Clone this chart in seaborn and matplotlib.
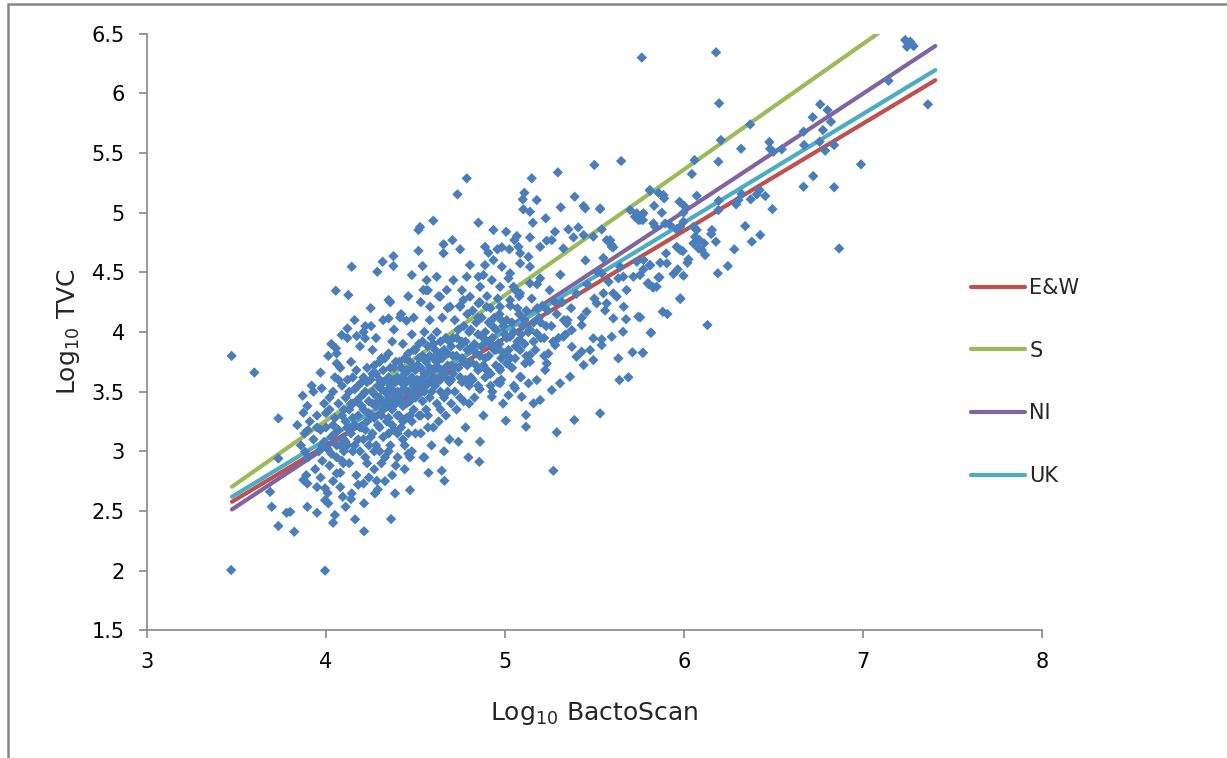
import pandas as pd
import matplotlib
matplotlib.use('Agg')
import matplotlib.pyplot as plt
from matplotlib.patches import Rectangle
import seaborn as sns

# Regression lines (start / end of each fitted line)
regions = ['E&W', 'S', 'NI', 'UK']
line_x = [3.475, 7.405]
line_y = {
    'E&W': [2.577, 6.11],
    'S': [2.703, 6.84],
    'NI': [2.513, 6.397],
    'UK': [2.619, 6.195],
}
line_colors = {'E&W': '#C0504D', 'S': '#9BBB59', 'NI': '#8064A2', 'UK': '#4BACC6'}

# Scatter points (log10 BactoScan, log10 TVC)
points = [
    # outliers, low end
    (3.473, 3.80), (3.60, 3.66), (3.47, 2.005), (3.995, 2.0), (3.734, 3.276),
    (3.688, 2.66), (3.697, 2.535), (3.734, 2.374), (3.823, 2.326), (3.78, 2.485),
    (3.80, 2.493), (3.896, 2.535), (3.95, 2.485), (3.734, 2.94), (3.84, 3.22),
    (3.87, 3.466), (3.896, 3.38), (3.874, 3.323), (3.97, 3.66), (3.976, 3.528),
    (4.013, 3.80), (4.055, 4.346), (4.125, 4.31), (4.144, 4.547), (4.056, 3.863),
    (4.088, 3.975), (4.12, 4.03), (4.06, 3.737), (3.93, 3.50), (3.90, 3.178),
    (3.883, 2.996), (3.874, 2.76), (3.896, 2.73), (3.95, 2.70), (3.995, 2.69),
    (3.995, 2.59), (4.013, 2.564), (4.05, 2.466), (4.04, 2.401), (4.11, 2.535),
    (4.163, 2.43), (4.213, 2.33), (4.213, 2.564), (4.094, 2.619), (4.144, 2.647),
    (4.274, 2.647), (4.364, 2.432), (4.386, 2.647), (4.47, 2.675), (4.21, 2.73),
    (4.284, 2.753), (4.097, 2.90), (4.06, 2.815), (4.35, 4.268), (4.287, 4.505),
    (4.317, 4.589), (4.377, 4.636), (4.377, 4.553), (4.517, 4.68), (4.48, 4.477),
    (4.54, 4.553), (4.56, 4.35), (4.517, 4.855), (4.252, 4.05), (4.172, 3.966),
    (4.21, 4.0), (4.219, 3.947), (4.35, 4.114), (4.414, 4.122), (4.45, 4.094),
    # middle band
    (4.787, 5.288), (4.735, 5.154), (4.60, 4.933), (4.526, 4.88), (5.15, 5.288),
    (5.296, 5.338), (5.50, 5.40), (5.65, 5.433), (5.109, 5.167), (5.10, 5.112),
    (5.178, 5.106), (5.103, 5.028), (5.14, 5.008), (5.39, 5.134), (5.44, 5.056),
    (5.449, 5.036), (5.312, 5.045), (5.532, 5.036), (5.228, 4.953), (4.852, 4.916),
    (4.936, 4.855), (5.007, 4.84), (5.067, 4.804), (5.053, 4.77), (5.14, 4.793),
    (5.156, 4.916), (5.28, 4.84), (5.355, 4.86), (5.41, 4.877), (4.707, 4.77),
    (4.657, 4.735), (4.75, 4.693), (4.657, 4.66), (4.889, 4.714), (4.908, 4.664),
    (4.958, 4.693), (4.983, 4.71), (5.025, 4.693), (5.076, 4.714), (5.085, 4.66),
    (5.132, 4.63), (5.197, 4.714), (5.234, 4.765), (5.262, 4.77), (5.327, 4.70),
    (5.383, 4.793), (5.44, 4.813), (5.494, 4.80), (5.541, 4.86), (5.588, 4.77),
    (5.597, 4.729), (5.606, 4.71), (5.70, 5.022), (5.737, 4.995), (5.746, 4.94),
    (5.81, 5.19), (5.634, 4.45), (5.737, 4.589), (5.774, 4.603), (5.81, 4.561),
    (5.718, 4.463), (5.755, 4.477), (5.80, 4.408), (5.848, 4.379), (5.664, 4.212),
    (5.677, 4.107), (5.66, 4.002), (5.746, 4.128), (5.815, 3.994), (5.713, 3.83),
    (5.771, 3.826), (5.634, 3.779), (5.64, 3.597), (5.69, 3.62), (5.532, 3.318),
    (5.388, 3.262), (5.29, 3.159), (5.271, 2.837), (5.118, 3.304), (5.118, 3.206),
    (5.005, 3.256), (4.861, 3.08), (4.857, 2.912), (4.796, 2.949), (4.647, 2.837),
    (4.662, 2.753), (4.573, 2.82), (4.545, 2.949), (5.364, 3.625), (5.308, 3.57),
    (5.262, 3.513), (5.197, 3.43), (5.16, 3.402), (5.094, 3.457), (5.057, 3.528),
    (5.02, 3.47), (4.973, 3.57), (4.927, 3.457), (5.494, 3.765), (5.44, 3.723),
    (5.40, 3.793), (5.374, 3.876), (5.429, 3.835), (5.476, 3.849), (5.541, 3.89),
    (5.494, 3.947), (5.541, 3.938), (5.597, 3.96), (5.606, 4.114), (5.569, 4.24),
    (5.625, 4.296), (5.513, 4.24), (5.457, 4.17), (5.346, 4.072), (5.374, 4.016),
    (5.429, 4.058), (5.327, 3.96), (5.281, 3.89), (5.243, 3.82), (5.234, 3.737),
    (5.225, 3.681), (5.178, 3.597), (5.132, 3.57), (5.085, 3.625), (5.113, 3.737),
    (5.057, 3.779), (5.085, 3.849), (5.14, 3.807), (5.178, 3.989), (5.085, 3.932),
    (5.029, 3.96), (4.964, 3.905), (4.973, 3.849), (5.01, 3.737), (4.973, 3.681),
    (4.88, 4.477), (4.927, 4.435), (4.973, 4.379), (4.861, 4.379), (4.805, 4.296),
    (4.768, 4.268), (4.75, 4.212), (4.852, 4.24), (4.898, 4.212), (4.973, 4.212),
    (5.029, 4.268), (5.085, 4.324), (5.048, 4.379), (5.14, 4.408), (5.197, 4.45),
    (5.14, 4.547), (5.085, 4.575), (5.029, 4.492), (4.983, 4.547), (4.936, 4.603),
    (4.889, 4.561), (4.852, 4.463), (4.805, 4.561), (4.787, 4.463), (4.712, 4.435),
    (4.675, 4.352), (4.619, 4.463), (4.563, 4.435), (4.545, 4.352), (4.638, 4.296),
    (4.582, 4.212), (4.694, 4.212),
    # upper end
    (5.765, 6.30), (6.18, 6.344), (6.197, 5.917), (6.207, 5.609), (6.371, 5.74),
    (6.06, 5.441), (6.045, 5.324), (6.193, 5.427), (6.32, 5.536), (6.478, 5.592),
    (6.482, 5.536), (6.50, 5.511), (6.547, 5.531), (6.669, 5.679), (6.72, 5.80),
    (6.762, 5.908), (6.803, 5.86), (6.822, 5.762), (6.777, 5.693), (6.759, 5.595),
    (6.79, 5.52), (6.84, 5.567), (6.672, 5.567), (7.144, 6.106), (6.99, 5.405),
    (6.723, 5.307), (6.669, 5.218), (6.84, 5.213), (6.868, 4.70), (6.495, 5.03),
    (6.455, 5.14), (6.423, 5.19), (6.408, 5.154), (6.374, 5.112), (6.323, 5.157),
    (6.305, 5.106), (6.292, 5.07), (6.195, 5.10), (6.193, 5.022), (6.343, 4.888),
    (6.38, 4.757), (6.427, 4.813), (6.282, 4.693), (6.246, 4.553), (6.19, 4.492),
    (6.179, 4.757), (6.157, 4.855), (6.153, 4.821), (6.132, 4.058), (5.98, 4.276),
    (5.882, 4.17), (5.908, 4.151), (5.817, 3.994), (5.771, 3.826), (5.756, 4.123),
    (6.119, 4.645), (6.10, 4.687), (6.082, 4.701), (6.113, 4.743), (6.087, 4.77),
    (6.063, 4.798), (6.054, 4.743), (6.026, 4.609), (6.02, 4.58), (5.998, 4.472),
    (5.966, 4.525), (5.942, 4.486), (5.858, 4.458), (5.802, 4.402), (5.827, 4.374),
    (5.905, 4.575), (5.868, 4.58), (5.812, 4.559), (5.774, 4.525), (5.901, 4.659),
    (5.96, 4.714), (5.98, 4.687), (5.994, 4.678), (5.812, 5.184), (5.858, 5.167),
    (5.886, 5.148), (5.89, 5.12), (5.834, 5.058), (5.877, 5.0), (5.765, 4.98),
    (5.771, 4.938), (5.83, 4.91), (5.84, 4.882), (5.896, 4.91), (5.923, 4.896),
    (5.976, 5.092), (6.003, 5.056), (5.998, 5.0), (6.072, 5.142), (5.96, 4.86),
    (5.98, 4.882), (6.054, 4.882), (6.072, 4.855), (5.998, 4.924), (7.237, 6.447),
    (7.256, 6.42), (7.247, 6.391), (7.284, 6.397), (7.266, 6.433), (7.364, 5.908),
    (5.532, 5.03), (5.569, 4.77), (5.597, 4.714), (5.644, 4.547), (5.541, 4.492),
    (5.606, 4.324), (5.551, 4.324), (5.662, 4.463), (5.68, 4.352), (5.774, 4.995),
    (5.727, 4.966), (5.755, 4.94), (5.98, 4.282), (5.80, 4.408), (5.83, 4.374),
    (5.864, 4.458),
    # dense core
    (3.86, 3.05), (3.88, 3.15), (3.90, 2.95), (3.91, 3.25), (3.93, 3.10),
    (3.94, 2.85), (3.95, 3.30), (3.96, 3.00), (3.97, 3.18), (3.98, 2.92),
    (3.99, 3.40), (3.92, 3.55), (3.89, 2.80), (3.97, 2.78), (3.99, 3.08),
    (4.00, 3.20), (4.01, 3.02), (4.02, 3.35), (4.02, 2.88), (4.03, 3.12),
    (4.04, 3.50), (4.04, 2.75), (4.05, 3.28), (4.05, 3.62), (4.06, 3.05),
    (4.06, 2.95), (4.07, 3.40), (4.07, 3.18), (4.08, 3.70), (4.08, 2.82),
    (4.09, 3.30), (4.09, 3.55), (4.10, 3.10), (4.10, 3.00), (4.03, 3.90),
    (4.06, 3.82), (4.01, 2.65), (4.08, 2.70),
    (4.11, 3.25), (4.11, 3.45), (4.12, 3.05), (4.12, 3.60), (4.13, 3.35),
    (4.13, 2.90), (4.14, 3.15), (4.14, 3.75), (4.15, 3.40), (4.15, 3.00),
    (4.16, 3.52), (4.16, 3.22), (4.17, 2.80), (4.17, 3.68), (4.18, 3.30),
    (4.18, 3.10), (4.19, 3.45), (4.19, 3.88), (4.20, 3.20), (4.20, 3.58),
    (4.12, 3.95), (4.16, 4.10), (4.18, 2.72), (4.14, 2.60), (4.19, 3.00),
    (4.21, 3.35), (4.21, 3.10), (4.22, 3.50), (4.22, 2.95), (4.23, 3.70),
    (4.23, 3.25), (4.24, 3.42), (4.24, 3.05), (4.25, 3.60), (4.25, 3.30),
    (4.26, 3.85), (4.26, 3.15), (4.27, 3.48), (4.27, 2.85), (4.28, 3.38),
    (4.28, 3.65), (4.29, 3.22), (4.29, 3.55), (4.30, 3.00), (4.30, 3.75),
    (4.22, 4.05), (4.25, 4.20), (4.28, 3.95), (4.24, 2.78), (4.29, 2.68),
    (4.26, 3.40), (4.30, 3.45), (4.21, 3.62),
    (4.31, 3.30), (4.31, 3.52), (4.32, 3.12), (4.32, 3.68), (4.33, 3.40),
    (4.33, 2.95), (4.34, 3.60), (4.34, 3.25), (4.35, 3.82), (4.35, 3.45),
    (4.36, 3.05), (4.36, 3.55), (4.37, 3.35), (4.37, 3.92), (4.38, 3.18),
    (4.38, 3.70), (4.39, 3.48), (4.39, 2.88), (4.40, 3.62), (4.40, 3.30),
    (4.32, 4.10), (4.36, 4.25), (4.38, 4.02), (4.33, 2.75), (4.37, 2.80),
    (4.31, 3.78), (4.35, 3.15), (4.39, 3.40), (4.34, 3.50),
    (4.41, 3.45), (4.41, 3.75), (4.42, 3.20), (4.42, 3.58), (4.43, 3.38),
    (4.43, 3.90), (4.44, 3.05), (4.44, 3.65), (4.45, 3.50), (4.45, 3.28),
    (4.46, 3.82), (4.46, 3.15), (4.47, 3.60), (4.47, 3.42), (4.48, 3.98),
    (4.48, 3.00), (4.49, 3.70), (4.49, 3.35), (4.50, 3.55), (4.50, 3.85),
    (4.42, 4.15), (4.46, 4.30), (4.49, 4.12), (4.44, 2.85), (4.47, 2.95),
    (4.43, 3.52), (4.48, 3.25), (4.45, 3.68),
    (4.51, 3.48), (4.51, 3.72), (4.52, 3.30), (4.52, 3.90), (4.53, 3.60),
    (4.53, 3.15), (4.54, 3.80), (4.54, 3.42), (4.55, 3.65), (4.55, 4.00),
    (4.56, 3.35), (4.56, 3.55), (4.57, 3.88), (4.57, 3.20), (4.58, 3.70),
    (4.58, 4.10), (4.59, 3.50), (4.59, 3.05), (4.60, 3.78), (4.60, 3.62),
    (4.53, 4.25), (4.57, 4.35), (4.55, 2.95), (4.59, 3.95), (4.52, 3.58),
    (4.56, 3.75),
    (4.61, 3.55), (4.61, 3.85), (4.62, 3.40), (4.62, 4.00), (4.63, 3.70),
    (4.63, 3.25), (4.64, 3.92), (4.64, 3.60), (4.65, 3.78), (4.65, 4.12),
    (4.66, 3.45), (4.66, 3.65), (4.67, 3.95), (4.67, 3.30), (4.68, 3.82),
    (4.68, 4.20), (4.69, 3.58), (4.69, 3.10), (4.70, 3.88), (4.70, 3.72),
    (4.63, 4.30), (4.66, 3.00), (4.68, 3.50), (4.62, 3.75),
    (4.71, 3.65), (4.71, 3.95), (4.72, 3.50), (4.72, 4.10), (4.73, 3.80),
    (4.73, 3.35), (4.74, 4.02), (4.74, 3.70), (4.75, 3.88), (4.75, 4.22),
    (4.76, 3.58), (4.76, 3.78), (4.77, 4.05), (4.77, 3.42), (4.78, 3.92),
    (4.78, 3.20), (4.79, 3.72), (4.79, 4.15), (4.80, 3.85), (4.80, 3.55),
    (4.74, 3.08), (4.76, 4.35),
    (4.81, 3.75), (4.81, 4.02), (4.82, 3.60), (4.82, 4.18), (4.83, 3.90),
    (4.83, 3.45), (4.84, 4.08), (4.84, 3.82), (4.85, 3.98), (4.85, 3.68),
    (4.86, 3.52), (4.86, 4.25), (4.87, 3.88), (4.87, 4.12), (4.88, 3.72),
    (4.88, 3.30), (4.89, 4.00), (4.89, 3.62), (4.90, 3.92), (4.90, 4.30),
    (4.91, 3.80), (4.91, 4.08), (4.92, 3.65), (4.92, 4.20), (4.93, 3.95),
    (4.93, 3.50), (4.94, 4.12), (4.94, 3.85), (4.95, 4.02), (4.95, 3.72),
    (4.96, 3.58), (4.96, 4.28), (4.97, 3.90), (4.97, 4.15), (4.98, 3.78),
    (4.99, 4.05), (4.99, 3.40), (5.00, 3.98),
    (5.01, 4.10), (5.02, 3.85), (5.03, 4.22), (5.04, 3.70), (5.05, 4.00),
    (5.06, 4.35), (5.07, 3.92), (5.08, 4.15), (5.09, 3.62), (5.10, 4.05),
    (5.02, 4.45), (5.05, 3.55), (5.08, 4.30),
    (5.11, 3.90), (5.12, 4.18), (5.13, 4.00), (5.14, 3.75), (5.15, 4.28),
    (5.16, 4.08), (5.17, 3.85), (5.18, 4.40), (5.19, 4.12), (5.20, 3.95),
    (5.21, 4.22), (5.23, 4.05), (5.25, 4.35), (5.27, 3.92), (5.29, 4.15),
    (5.31, 4.48), (5.33, 4.10), (5.22, 3.80), (5.28, 4.25), (5.34, 3.98),
    (5.37, 4.20), (5.40, 4.32), (5.43, 4.12), (5.46, 4.40), (5.50, 4.28),
    (5.52, 4.50), (5.56, 4.18), (5.58, 4.42), (5.45, 4.60), (5.55, 4.62),
    # dense core, second pass
    (4.02, 3.45), (4.04, 3.22), (4.07, 3.60), (4.09, 2.92), (4.11, 3.08),
    (4.13, 3.50), (4.15, 3.62), (4.15, 3.28), (4.17, 3.42), (4.18, 3.55),
    (4.20, 3.38), (4.21, 3.48), (4.22, 3.18), (4.23, 3.58), (4.24, 3.32),
    (4.25, 3.12), (4.26, 3.50), (4.26, 3.65), (4.27, 3.28), (4.27, 3.72),
    (4.28, 3.05), (4.29, 3.42), (4.30, 3.60), (4.30, 3.20), (4.31, 3.42),
    (4.32, 3.58), (4.32, 3.35), (4.33, 3.50), (4.33, 3.78), (4.34, 3.38),
    (4.35, 3.62), (4.35, 3.28), (4.36, 3.45), (4.36, 3.70), (4.37, 3.52),
    (4.37, 3.22), (4.38, 3.60), (4.38, 3.42), (4.39, 3.58), (4.39, 3.75),
    (4.40, 3.50), (4.40, 3.15), (4.41, 3.60), (4.41, 3.30), (4.42, 3.70),
    (4.42, 3.45), (4.43, 3.62), (4.43, 3.25), (4.44, 3.52), (4.44, 3.78),
    (4.45, 3.40), (4.45, 3.58), (4.46, 3.50), (4.46, 3.68), (4.47, 3.75),
    (4.47, 3.30), (4.48, 3.62), (4.48, 3.48), (4.49, 3.55), (4.49, 3.85),
    (4.50, 3.45), (4.50, 3.68), (4.51, 3.60), (4.52, 3.48), (4.52, 3.78),
    (4.53, 3.70), (4.54, 3.55), (4.54, 3.92), (4.55, 3.50), (4.55, 3.78),
    (4.56, 3.65), (4.57, 3.58), (4.58, 3.80), (4.58, 3.45), (4.59, 3.68),
    (4.60, 3.90), (4.61, 3.70), (4.62, 3.58), (4.63, 3.82), (4.64, 3.50),
    (4.65, 3.68), (4.66, 3.85), (4.67, 3.62), (4.68, 3.72), (4.69, 3.92),
    (4.70, 3.60), (4.71, 3.80), (4.72, 3.70), (4.73, 3.95), (4.75, 3.62),
    (4.76, 3.92), (4.77, 3.75), (4.78, 3.60), (4.79, 3.85), (4.80, 4.00),
    (4.81, 3.62), (4.82, 3.88), (4.84, 3.72), (4.85, 4.12), (4.86, 3.80),
    (4.88, 3.95), (4.89, 3.78), (4.90, 3.68), (4.92, 3.90), (4.93, 4.05),
    (4.95, 3.85), (4.97, 3.70), (4.98, 4.10), (5.00, 3.82), (5.01, 3.95),
    (5.03, 3.78), (5.04, 4.08), (5.06, 3.88), (5.07, 4.20), (5.09, 3.98),
    (5.11, 4.10), (5.12, 3.80), (5.14, 4.02), (5.16, 3.92), (5.18, 4.20),
    (5.20, 4.08), (5.22, 3.95), (5.24, 4.18), (5.26, 4.05), (5.30, 3.95),
    (5.32, 4.25), (5.35, 4.10), (3.95, 3.20), (3.98, 3.05), (4.00, 3.32),
    (4.03, 2.98), (4.05, 3.15), (4.08, 3.05), (4.10, 3.35), (4.12, 3.20),
    (4.14, 3.40), (4.16, 3.05), (4.19, 3.20), (4.23, 2.90), (4.27, 3.00),
    (4.31, 2.90), (4.35, 3.00), (4.40, 2.95), (4.43, 3.10), (4.46, 2.98),
    (4.50, 3.15), (4.53, 3.30), (4.57, 3.30), (4.60, 3.20), (4.64, 3.35),
    (4.70, 3.40), (4.75, 3.45), (4.80, 3.40), (4.85, 3.55), (4.92, 3.55),
    (4.98, 3.60),
]

df = pd.DataFrame(points, columns=['bactoscan', 'tvc'])

sns.set_style('white')
plt.rcParams['font.family'] = ['DejaVu Sans']

fig = plt.figure(figsize=(12.27, 7.58), dpi=100)
ax = fig.add_axes([0.1198, 0.1685, 0.7292, 0.787])

# fitted lines
for r in regions:
    sns.lineplot(x=line_x, y=line_y[r], color=line_colors[r], linewidth=3.0,
                 solid_capstyle='round', label=r, ax=ax, zorder=2)

# data points
sns.scatterplot(data=df, x='bactoscan', y='tvc', marker='D', s=28,
                color='#4A7EBB', edgecolor='none', ax=ax, zorder=3)

ax.set_xlim(3, 8)
ax.set_ylim(1.5, 6.5)
ax.set_xticks([3, 4, 5, 6, 7, 8])
ax.set_yticks([1.5, 2, 2.5, 3, 3.5, 4, 4.5, 5, 5.5, 6, 6.5])
ax.set_yticklabels(['1.5', '2', '2.5', '3', '3.5', '4', '4.5', '5', '5.5', '6', '6.5'])

for s in ['top', 'right']:
    ax.spines[s].set_visible(False)
for s in ['left', 'bottom']:
    ax.spines[s].set_color('#878787')
    ax.spines[s].set_linewidth(1.2)
ax.tick_params(axis='both', direction='out', length=6, width=1.2,
               color='#878787', labelsize=15, labelcolor='black', pad=10,
               left=True, bottom=True)

ax.set_xlabel(r'Log$_{\mathregular{10}}$ BactoScan', fontsize=18)
ax.set_ylabel(r'Log$_{\mathregular{10}}$ TVC', fontsize=18)
ax.xaxis.set_label_coords(0.4996, -0.117)
ax.yaxis.set_label_coords(-0.073, 0.5)

handles, labels = ax.get_legend_handles_labels()
ax.legend(handles[:4], labels[:4], loc='center left',
          bbox_to_anchor=(971 / 1227, 1 - 382 / 758),
          bbox_transform=fig.transFigure, frameon=False, fontsize=15,
          handlelength=2.6, handletextpad=0.2, labelspacing=2.05,
          borderpad=0, borderaxespad=0)

# chart-area border (only left and top visible in the crop)
fig.add_artist(Rectangle((8 / 1227, -0.1), 1.2, 1.1 - 4.5 / 758,
                         transform=fig.transFigure, fill=False,
                         edgecolor='#878787', linewidth=1.8))

fig.savefig('out.png', dpi=100)
